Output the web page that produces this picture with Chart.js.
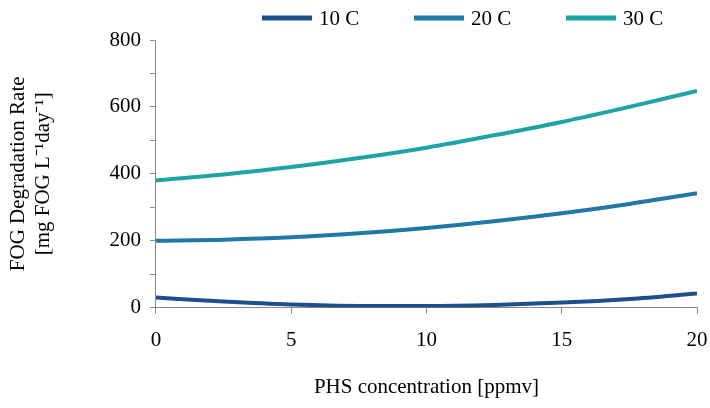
<!DOCTYPE html>
<html><head><meta charset="utf-8">
<script src="https://cdn.jsdelivr.net/npm/chart.js@4/dist/chart.umd.min.js"></script>
<style>body{margin:0;background:#fff}#w{width:710px;height:408px}</style>
</head><body><div id="w"><canvas id="c"></canvas></div>
<script>
const phs = [0, 2.5, 5, 7.5, 10, 12.5, 15, 17.5, 20];
const rate10 = [30, 18, 9, 5, 5, 8, 15, 26, 42];
const rate20 = [200, 203, 210, 222, 238, 258, 282, 310, 342];
const rate30 = [380, 398, 420, 447, 478, 515, 555, 600, 648];
const seriesNames = ['10 C', '20 C', '30 C'];
const colors = ['#1f4e8c', '#1f78a6', '#1ea3a6'];

const font = { family: '"Liberation Serif", "Times New Roman", serif', size: 21 };
const mk = (i, vals) => ({
  label: seriesNames[i],
  data: phs.map((x, j) => ({ x: x, y: vals[j] })),
  borderColor: colors[i], backgroundColor: colors[i],
  borderWidth: 4, pointRadius: 0, tension: 0.4, cubicInterpolationMode: 'monotone'
});

// legend drawn along the top, items spaced wide like the original
const topLegend = {
  id: 'topLegend',
  afterDraw(chart) {
    const ctx = chart.ctx;
    ctx.save();
    ctx.font = font.size + 'px ' + font.family;
    ctx.textBaseline = 'middle';
    chart.data.datasets.forEach((ds, i) => {
      const x0 = 262 + i * 152, y = 18;
      ctx.strokeStyle = ds.borderColor;
      ctx.lineWidth = 5;
      ctx.beginPath(); ctx.moveTo(x0, y); ctx.lineTo(x0 + 50, y); ctx.stroke();
      ctx.fillStyle = '#000';
      ctx.fillText(ds.label, x0 + 57, y + 1);
    });
    ctx.restore();
  }
};

new Chart(document.getElementById('c'), {
  type: 'line',
  data: { datasets: [mk(0, rate10), mk(1, rate20), mk(2, rate30)] },
  plugins: [topLegend],
  options: {
    responsive: true, maintainAspectRatio: false, animation: false,
    layout: { padding: { left: 6, right: 13, top: 40, bottom: 4 } },
    plugins: { legend: { display: false }, tooltip: { enabled: false } },
    scales: {
      x: {
        type: 'linear', min: 0, max: 20,
        afterFit: s => { s.paddingRight = 0; },
        ticks: { stepSize: 5, font: font, color: '#000', padding: 14 },
        grid: { drawOnChartArea: false, tickLength: 6, color: '#888' },
        border: { color: '#888' },
        title: { display: true, text: 'PHS concentration [ppmv]', font: font, color: '#000', padding: { top: 8 } }
      },
      y: {
        min: 0, max: 800,
        ticks: { stepSize: 100, font: font, color: '#000', padding: 9,
          callback: v => (v % 200 === 0 ? v : '') },
        grid: { drawOnChartArea: false, tickLength: 6, color: '#888' },
        border: { color: '#888' },
        title: { display: true, text: ['FOG Degradation Rate', '[mg FOG L\u207B\u00B9day\u207B\u00B9]'],
          font: font, color: '#000', padding: { top: 0, bottom: 44 } }
      }
    }
  }
});
</script></body></html>
